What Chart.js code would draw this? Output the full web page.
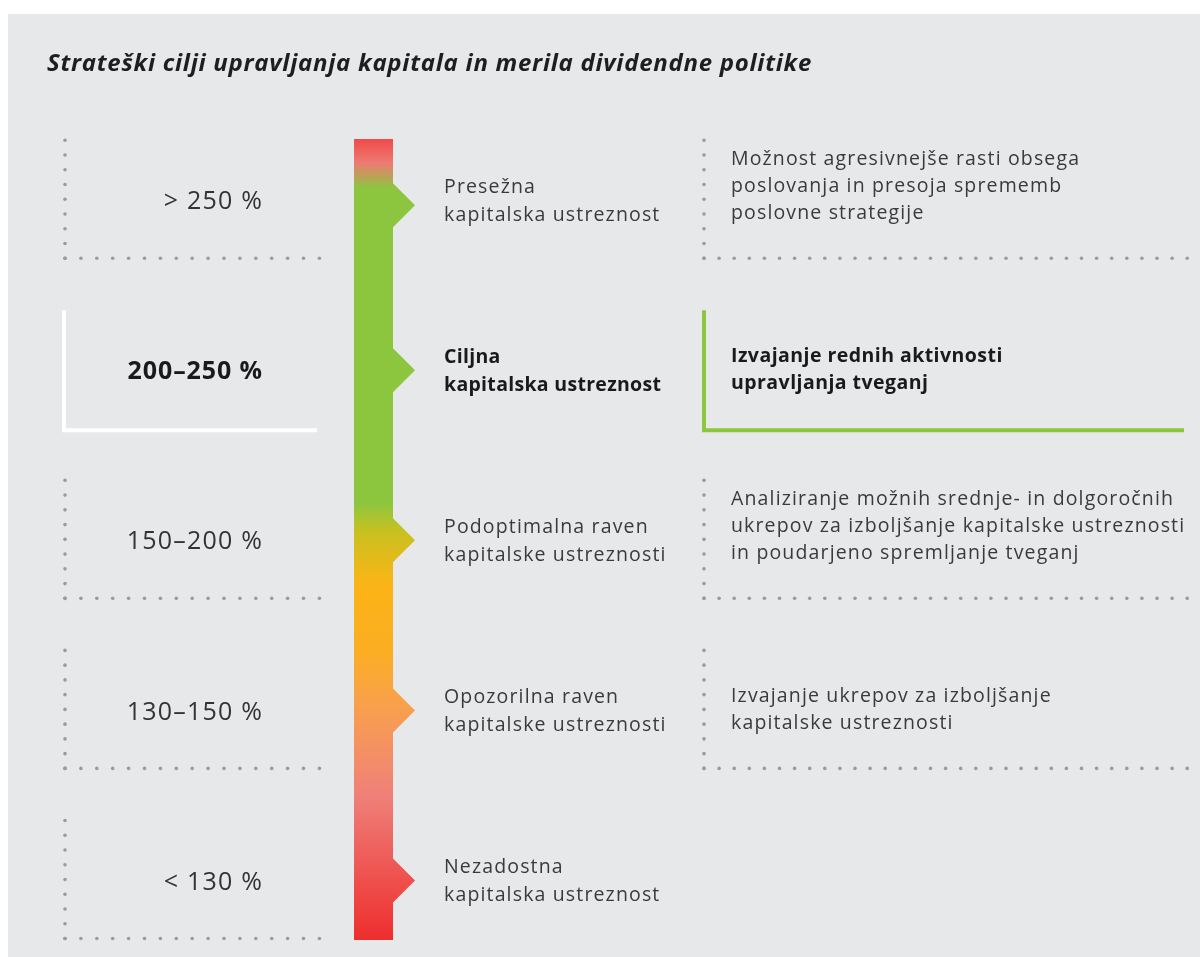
<!DOCTYPE html>
<html>
<head>
<meta charset="utf-8">
<script src="https://cdn.jsdelivr.net/npm/chart.js@4.4.1/dist/chart.umd.min.js"></script>
<style>
  html, body { margin: 0; padding: 0; background: #ffffff; overflow: hidden; }
  #wrap { position: absolute; left: 0; top: 0; width: 1200px; height: 957px; }
</style>
</head>
<body>
<div id="wrap"><canvas id="c" width="1200" height="957"></canvas></div>
<script>
// ---------------- data ----------------
const title = 'Strateški cilji upravljanja kapitala in merila dividendne politike';
const levels = [0, 1, 2, 3, 4];
const ranges = ['> 250 %', '200–250 %', '150–200 %', '130–150 %', '< 130 %'];
const levelLabels = [
  ['Presežna', 'kapitalska ustreznost'],
  ['Ciljna', 'kapitalska ustreznost'],
  ['Podoptimalna raven', 'kapitalske ustreznosti'],
  ['Opozorilna raven', 'kapitalske ustreznosti'],
  ['Nezadostna', 'kapitalska ustreznost']
];
const descriptions = [
  ['Možnost agresivnejše rasti obsega', 'poslovanja in presoja sprememb', 'poslovne strategije'],
  ['Izvajanje rednih aktivnosti', 'upravljanja tveganj'],
  ['Analiziranje možnih srednje- in dolgoročnih', 'ukrepov za izboljšanje kapitalske ustreznosti', 'in poudarjeno spremljanje tveganj'],
  ['Izvajanje ukrepov za izboljšanje', 'kapitalske ustreznosti'],
  []
];
const targetLevel = 1;
const barRange = [-0.36, 4.35];          // extent of the colour scale, in level units
const gradLevels = [-0.36, -0.22, -0.07, 1.78, 1.95, 2.25, 2.65, 2.98, 3.5, 4.35];
const gradColors = ['#f04a4a', '#ee7a72', '#8cc63f', '#8cc63f', '#c8c120', '#fbb416', '#fbae22', '#f8a04e', '#ef8079', '#ee2e2e'];

// ---------------- style ----------------
const FONT = '"Open Sans", "Noto Sans", sans-serif';
const PANEL = '#e7e8e9';
const DOT = '#9b9b9b';
const GREEN = '#8cc63f';

function makeGradient(chart) {
  const ys = chart.scales.y;
  const ca = chart.chartArea;
  if (!ca || !ys) return GREEN;
  const g = chart.ctx.createLinearGradient(0, ca.top, 0, ca.bottom);
  const span = ca.bottom - ca.top;
  gradLevels.forEach((v, i) => {
    let t = (ys.getPixelForValue(v) - ca.top) / span;
    t = Math.max(0, Math.min(1, t));
    g.addColorStop(t, gradColors[i]);
  });
  return g;
}

function dotsV(ctx, x, y0, y1, step) {
  for (let y = y0; y <= y1 + 0.5; y += step) {
    ctx.beginPath(); ctx.arc(x, y, 1.8, 0, Math.PI * 2); ctx.fill();
  }
}
function dotsH(ctx, y, x0, x1, step) {
  for (let x = x0; x <= x1 + 0.5; x += step) {
    ctx.beginPath(); ctx.arc(x, y, 1.8, 0, Math.PI * 2); ctx.fill();
  }
}
function setSpacing(ctx, px) {
  if ('letterSpacing' in ctx) ctx.letterSpacing = px + 'px';
}

const panelPlugin = {
  id: 'panel',
  beforeDraw(chart) {
    const ctx = chart.ctx;
    ctx.save();
    ctx.fillStyle = '#ffffff';
    ctx.fillRect(0, 0, chart.width, chart.height);
    ctx.fillStyle = PANEL;
    ctx.fillRect(8, 14, chart.width - 8, chart.height - 14);
    ctx.restore();
  }
};

const arrowsPlugin = {
  id: 'arrows',
  afterDatasetsDraw(chart) {
    const ctx = chart.ctx;
    const ys = chart.scales.y;
    const bar = chart.getDatasetMeta(0).data[0];
    const right = bar.x + bar.width / 2;
    ctx.save();
    ctx.fillStyle = makeGradient(chart);
    levels.forEach((lv, i) => {
      const y = ys.getPixelForValue(lv) + (i === 0 ? 5 : 0);
      ctx.beginPath();
      ctx.moveTo(right - 1, y - 23);
      ctx.lineTo(right + 22, y);
      ctx.lineTo(right - 1, y + 23);
      ctx.closePath();
      ctx.fill();
    });
    ctx.restore();
  }
};

const textPlugin = {
  id: 'texts',
  afterDraw(chart) {
    const ctx = chart.ctx;
    const ys = chart.scales.y;
    ctx.save();
    // title
    ctx.fillStyle = '#1e1e1e';
    ctx.font = 'italic bold 24px ' + FONT;
    setSpacing(ctx, 0.72);
    ctx.textBaseline = 'middle';
    ctx.textAlign = 'left';
    ctx.fillText(title, 47, 64);

    levels.forEach((lv, i) => {
      const c = ys.getPixelForValue(lv);
      const hi = i === targetLevel;
      // left box
      if (hi) {
        ctx.strokeStyle = '#ffffff';
        ctx.lineWidth = 4;
        ctx.beginPath();
        ctx.moveTo(64, c - 60); ctx.lineTo(64, c + 60); ctx.lineTo(317, c + 60);
        ctx.stroke();
      } else {
        ctx.fillStyle = DOT;
        dotsV(ctx, 65, c - 60, c + 58, 14.75);
        dotsH(ctx, c + 58, 65, 320, 15.9);
      }
      // range text
      ctx.fillStyle = hi ? '#1a1a1a' : '#333333';
      ctx.font = (hi ? 'bold ' : '') + '25px ' + FONT;
      setSpacing(ctx, hi ? 0.9 : 1.2);
      ctx.textAlign = 'right';
      ctx.fillText(ranges[i], 263, c + 2);
      // level label
      ctx.textAlign = 'left';
      ctx.font = (hi ? 'bold ' : '') + '19.5px ' + FONT;
      setSpacing(ctx, hi ? 0.3 : 1.15);
      ctx.fillStyle = hi ? '#1a1a1a' : '#3a3a3a';
      levelLabels[i].forEach((t, k) => ctx.fillText(t, 444, c - 13 + 28 * k));
      // right box
      const d = descriptions[i];
      if (d.length) {
        if (hi) {
          ctx.strokeStyle = GREEN;
          ctx.lineWidth = 4;
          ctx.beginPath();
          ctx.moveTo(704, c - 60); ctx.lineTo(704, c + 60); ctx.lineTo(1184, c + 60);
          ctx.stroke();
        } else {
          ctx.fillStyle = DOT;
          dotsV(ctx, 704, c - 60, c + 58, 14.75);
          dotsH(ctx, c + 58, 704, 1190, 15.1);
        }
        ctx.fillStyle = hi ? '#1a1a1a' : '#3a3a3a';
        ctx.font = (hi ? 'bold ' : '') + '19.5px ' + FONT;
        setSpacing(ctx, hi ? 0.45 : 1.15);
        const n = d.length;
        d.forEach((t, k) => ctx.fillText(t, 731, c + 13 - 27 * (n - 1 - k)));
      }
    });
    ctx.restore();
  }
};

new Chart(document.getElementById('c'), {
  type: 'bar',
  data: {
    labels: ['scale'],
    datasets: [{
      data: [barRange],
      backgroundColor: (ctx) => makeGradient(ctx.chart),
      borderWidth: 0,
      barPercentage: 1,
      categoryPercentage: 1
    }]
  },
  options: {
    responsive: false,
    animation: false,
    events: [],
    layout: { padding: { left: 354, right: 1200 - 393, top: 139, bottom: 957 - 940 } },
    scales: {
      x: { type: 'category', display: false },
      y: { type: 'linear', reverse: true, min: barRange[0], max: barRange[1], display: false }
    },
    plugins: { legend: { display: false }, tooltip: { enabled: false } }
  },
  plugins: [panelPlugin, arrowsPlugin, textPlugin]
});
</script>
</body>
</html>
